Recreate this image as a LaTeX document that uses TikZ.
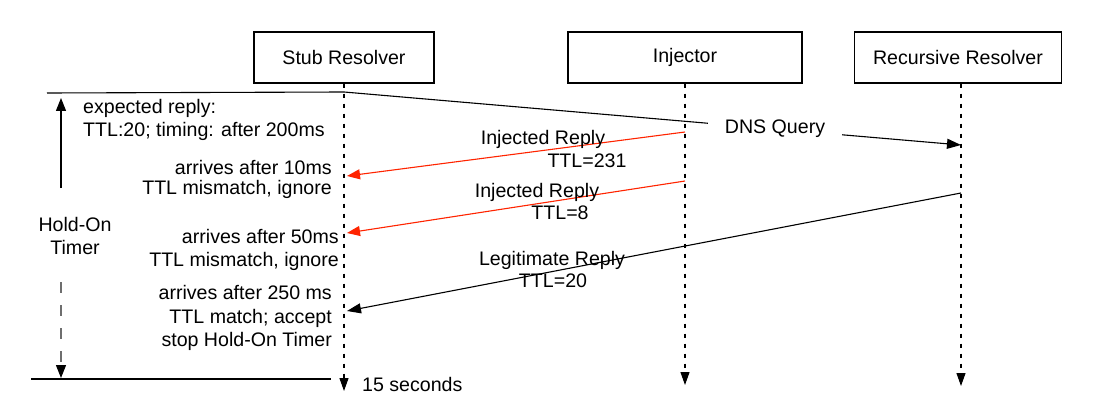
\documentclass[tikz,border=0pt]{standalone}
\usepackage{fontspec}
\setmainfont{Liberation Sans}
\usetikzlibrary{arrows.meta}
\definecolor{injred}{RGB}{255,36,0}
\definecolor{dashgray}{RGB}{110,110,110}
\begin{document}
\begin{tikzpicture}[x=1pt,y=-1pt,
  font=\fontsize{19.6}{23}\selectfont,
  actor/.style={draw, line width=1.2pt, minimum height=51pt, inner sep=0pt},
  life/.style={line width=1.1pt, dash pattern=on 4pt off 6pt, -{Triangle[length=13pt,width=9pt]}},
  msg/.style={line width=1.1pt, -{Triangle[length=14pt,width=10pt]}},
  redmsg/.style={msg, draw=injred, -{Triangle[length=13pt,width=10pt,color=injred]}},
  plainline/.style={line width=1.1pt},
  note/.style={inner sep=0pt},
  lbl/.style={inner sep=0pt, anchor=base}]
\useasboundingbox (0,0) rectangle (1112,412);

% actors
\node[actor, minimum width=180pt] (stub) at (344,57.5) {Stub Resolver};
\node[actor, minimum width=234pt] (inj)  at (685,57.5) {Injector};
\node[actor, minimum width=207pt] (rec)  at (958,57.5) {Recursive Resolver};

% lifeline ends
\coordinate (stubEnd) at (344,391);
\coordinate (injEnd)  at (685,385);
\coordinate (recEnd)  at (961,386);
\draw[life] (stub.south) -- (stubEnd);
\draw[life] (inj.south) -- (injEnd);
\draw[life] (rec.south -| recEnd) -- (recEnd);

% timer lines
\coordinate (t0) at (47,93);
\coordinate (q1) at (344,92);
\coordinate (q2) at (961,145);
\draw[plainline] (t0) -- (q1);
\draw[msg] (q1) -- (q2);
\node[fill=white, inner xsep=17pt, inner ysep=2pt, anchor=base] (dnsq) at (775,133) {DNS Query};

\coordinate (b0) at (31,379);
\coordinate (b1) at (331,379);
\draw[plainline] (b0) -- (b1);

\coordinate (ua) at (61,188);
\coordinate (ub) at (61,98);
\draw[msg, -{Triangle[length=13pt,width=10pt]}] (ua) -- (ub);
\coordinate (da) at (61,282);
\coordinate (db) at (61,378);
\draw[line width=1.1pt, draw=dashgray, dash pattern=on 11pt off 12pt,
      -{Triangle[length=13pt,width=10pt,color=black]}] (da) -- (db);

% messages
\coordinate (i1) at (685,132);
\coordinate (s1) at (347,176);
\draw[redmsg] (i1) -- (s1);
\coordinate (i2) at (685,181);
\coordinate (s2) at (347,233);
\draw[redmsg] (i2) -- (s2);
\coordinate (r3) at (961,193);
\coordinate (s3) at (347,311);
\draw[msg] (r3) -- (s3);

% message labels
\node[lbl] (l1a) at (543,144) {Injected Reply};
\node[lbl] (l1b) at (587,167) {TTL=231};
\node[lbl] (l2a) at (537,197) {Injected Reply};
\node[lbl] (l2b) at (560,219) {TTL=8};
\node[lbl] (l3a) at (552,265) {Legitimate Reply};
\node[lbl] (l3b) at (553,287) {TTL=20};

% annotations
\node[note, anchor=west, align=left] (exp) at (83,120.4) {expected reply:\\TTL:20; timing: after 200ms};
\node[note, anchor=east, align=right] (a10) at (332,179.9) {arrives after 10ms\\[-3pt]TTL mismatch, ignore};
\node[note, anchor=east, align=right] (a50) at (339,250.4) {arrives after 50ms\\TTL mismatch, ignore};
\node[note, anchor=east, align=right] (a250) at (332,318.4) {arrives after 250 ms\\[0.5pt]TTL match; accept\\[0.5pt]stop Hold-On Timer};
\node[note, align=center] (hold) at (75,236.4) {Hold-On\\Timer};
\node[lbl, anchor=base west] (sec) at (362,391) {15 seconds};
\end{tikzpicture}
\end{document}
